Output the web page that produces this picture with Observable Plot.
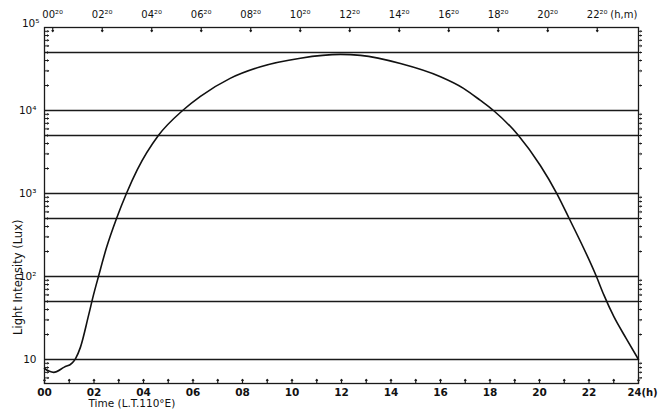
<!DOCTYPE html>
<html>
<head>
<meta charset="utf-8">
<script src="https://cdn.jsdelivr.net/npm/d3@7"></script>
<script src="https://cdn.jsdelivr.net/npm/@observablehq/plot@0.6"></script>
<style>
  html, body { margin: 0; padding: 0; background: #fff; }
  #chart svg { display: block; }
</style>
</head>
<body>
<div id="chart"></div>
<script>
// ---- data ----
const hours = [0, 0.2, 0.37, 0.8, 1.1, 1.25, 1.45, 1.78, 1.98, 2.18, 2.5, 2.91, 3.31, 3.75, 4.6, 5.58, 6.3, 7.5, 8.73, 10.34, 11.96, 12.77, 14.38, 16.0, 16.93, 17.6, 18.14, 19.15, 20.04, 20.7, 21.2, 22.3, 22.6, 23.0, 23.5, 24];
const lux   = [7.8, 7.2, 7.0, 8.1, 9.0, 10.2, 14, 34, 60, 100, 220, 500, 1000, 1940, 5000, 10000, 14800, 24400, 33700, 42700, 47400, 46100, 36800, 25500, 18500, 13300, 10000, 5000, 2160, 1000, 500, 100, 60, 33, 18, 10];

const gridValues = [10, 50, 100, 500, 1000, 5000, 10000, 50000];
const yMajor = [10, 100, 1000, 10000];
const yMajorLabels = ["10", "10²", "10³", "10⁴"];
const yTop = 100000;
const yTopLabel = "10⁵";
const yMin = 5.14;

const bottomTicks = d3.range(0, 25, 1);
const bottomLabelHours = [0, 2, 4, 6, 8, 10, 12, 14, 16, 18, 20, 22];
const bottomLabels = ["00", "02", "04", "06", "08", "10", "12", "14", "16", "18", "20", "22"];
const lastHour = 24;
const lastLabel = "24(h)";

const topTickHours = [0.333, 2.333, 4.333, 6.333, 8.333, 10.333, 12.333, 14.333, 16.333, 18.333, 20.333, 22.333];
const topLabels = ["00²⁰", "02²⁰", "04²⁰", "06²⁰", "08²⁰", "10²⁰", "12²⁰", "14²⁰", "16²⁰", "18²⁰", "20²⁰", "22²⁰"];

const minorY = [];
for (const m of [6, 7, 8, 9]) minorY.push(m);
for (const d of [10, 100, 1000, 10000]) for (let m = 2; m <= 9; m++) minorY.push(m * d);

const series = hours.map((h, i) => ({h, v: lux[i]}));
const font = "DejaVu Sans, sans-serif";
const yTitleAt = 98; // vertical centre of the y title, in lux

const chart = Plot.plot({
  width: 661,
  height: 415,
  marginLeft: 44,
  marginRight: 23,
  marginTop: 27,
  marginBottom: 32,
  style: {fontFamily: font, background: "#fff", color: "#111"},
  x: {domain: [0, 24], axis: null},
  y: {type: "log", domain: [yMin, yTop], axis: null},
  marks: [
    Plot.ruleY(gridValues, {stroke: "#1a1a1a", strokeWidth: 1.3}),
    Plot.frame({stroke: "#1a1a1a", strokeWidth: 1.3}),
    // bottom hour ticks (inward)
    Plot.vector(bottomTicks, {x: d => d, y: () => yMin, length: 4, rotate: 0, anchor: "start", stroke: "#1a1a1a", strokeWidth: 1.2}),
    // top ticks (inward)
    Plot.vector(topTickHours, {x: d => d, y: () => yTop, length: 4, rotate: 180, anchor: "start", stroke: "#1a1a1a", strokeWidth: 1.2}),
    // left minor ticks (inward)
    Plot.vector(minorY, {x: () => 0, y: d => d, length: 4, rotate: 90, anchor: "start", stroke: "#1a1a1a", strokeWidth: 1}),
    // right minor ticks
    Plot.vector(minorY, {x: () => 24, y: d => d, length: 3, rotate: 90, anchor: "start", stroke: "#1a1a1a", strokeWidth: 1}),
    // curve
    Plot.line(series, {x: "h", y: "v", curve: "monotone-x", stroke: "#111", strokeWidth: 1.6}),
    // y labels
    Plot.text(yMajor, {x: () => 0, y: d => d, text: (d, i) => yMajorLabels[i], textAnchor: "end", dx: -8, fontSize: 10.5, fill: "#111"}),
    Plot.text([yTop], {x: () => 0, y: d => d, text: () => yTopLabel, textAnchor: "end", dx: -5, dy: -4, fontSize: 10.5, fill: "#111"}),
    // bottom labels
    Plot.text(bottomLabelHours, {x: d => d, y: () => yMin, text: (d, i) => bottomLabels[i], dy: 9, fontSize: 10.5, fontWeight: "bold", fill: "#111"}),
    Plot.text([lastHour], {x: d => d, y: () => yMin, text: () => lastLabel, textAnchor: "start", dx: -11, dy: 9, fontSize: 10, fontWeight: "bold", fill: "#111"}),
    // top labels
    Plot.text(topTickHours, {x: d => d, y: () => yTop, text: (d, i) => topLabels[i], dy: -13, fontSize: 10, fill: "#111"}),
    Plot.text(["(h,m)"], {x: () => 22.333, y: () => yTop, text: d => d, textAnchor: "start", dx: 13, dy: -13, fontSize: 10, fill: "#111"}),
    // axis titles
    Plot.text(["Time (L.T.110°E)"], {frameAnchor: "bottom-left", textAnchor: "start", dx: 44, dy: 23, fontSize: 10.5, fill: "#111"}),
    Plot.text(["Light Intensity (Lux)"], {x: () => 0, y: () => yTitleAt, rotate: -90, dx: -26, fontSize: 11.5, fill: "#111"})
  ]
});
document.getElementById("chart").appendChild(chart);
</script>
</body>
</html>
